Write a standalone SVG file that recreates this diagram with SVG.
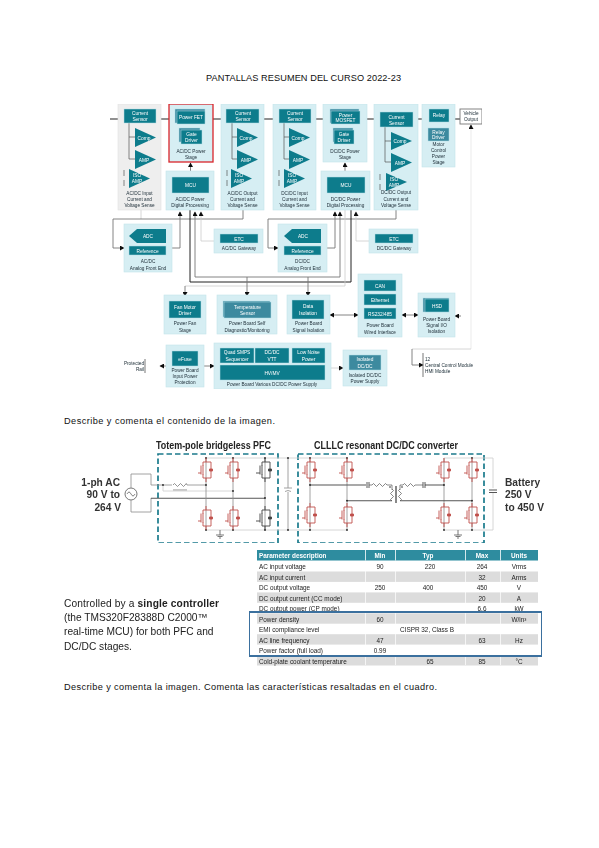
<svg xmlns="http://www.w3.org/2000/svg" width="599" height="848" viewBox="0 0 599 848">
<style>
text{font-family:"Liberation Sans",Arial,sans-serif}
.p{fill:#d6eef3;stroke:#c3e3ea;stroke-width:.6}
.pg{fill:#eeeeee;stroke:#e2e2e2;stroke-width:.6}
.b{fill:#0f7c8c;stroke:#b5dde5;stroke-width:.5}
.s{fill:#3d8a9f;stroke:#b5dde5;stroke-width:.5}
.t{fill:#0f7c8c}
.w{fill:#fff;font-size:4.8px;text-anchor:middle}
.l{fill:#20303a;font-size:4.7px;text-anchor:middle}
.k{fill:none;stroke:#222;stroke-width:1.2}
.g{fill:none;stroke:#777;stroke-width:.9}
.lg{fill:none;stroke:#ccc;stroke-width:.8}
.f{fill:none;stroke:#e6e6e6;stroke-width:.8}
.dk{fill:none;stroke:#222;stroke-width:1}
.a{marker-end:url(#ah)}
.r{fill:none;stroke:#8a8a8a;stroke-width:.8}
.r2{fill:none;stroke:#555;stroke-width:1.1}
.c{fill:none;stroke:#555;stroke-width:.7}
.d{fill:#222}
.h{fill:#222;font-size:10.6px;font-weight:bold}
.n{fill:#333;font-size:10.2px;text-anchor:end;font-weight:bold}
.dash{fill:none;stroke:#1c7a8c;stroke-width:1.7;stroke-dasharray:5.5 3}
.th{fill:#fff;font-size:6.4px;font-weight:bold}
.td{fill:#222;font-size:6.4px}
.m{text-anchor:middle}
.cap{fill:#111;font-size:9.2px}
</style>
<defs>
<filter id="soft" x="0" y="0" width="100%" height="100%"><feGaussianBlur stdDeviation=".35"/></filter>
<marker id="ah" markerUnits="userSpaceOnUse" markerWidth="5" markerHeight="5" refX="4" refY="2.5" orient="auto"><path d="M0 0L4.5 2.5L0 5Z" fill="#111"/></marker>
<g id="swr" fill="none" stroke="#c0504d" stroke-width=".9"><path d="M0-12V-8H-3V-4M-3 4V8H0V12M-5-4.500V4.500M-3-4.500V4.500M-8 3H-5M0-8H5V8H0"/><path d="M3.500-1H6.500V1H3.500Z" fill="#c0504d"/></g>
<g id="swk" fill="none" stroke="#444" stroke-width=".9"><path d="M0-12V-8H-3V-4M-3 4V8H0V12M-5-4.500V4.500M-3-4.500V4.500M-9 3H-5M0-8H5V8H0"/><path d="M3.500-1H6.500V1H3.500Z" fill="#444"/></g>
<g id="gnd" fill="none" stroke="#555" stroke-width=".8"><path d="M0-5V0M-4 0H4M-2.500 1.500H2.500M-1 3H1"/></g>
</defs>
<rect width="599" height="848" fill="#fff"/>
<text id="title" x="206" y="81" font-size="9.2" fill="#111" textLength="195" lengthAdjust="spacing">PANTALLAS RESUMEN DEL CURSO 2022-23</text>

<g id="block-diagram" filter="url(#soft)">
<g id="connectors">
<path class="k" d="M110 119H118M161 119H169M213 119H221M264 119H273M316 119H323M367 119H374M418 119H422M455 119H460"/>
<path class="g a" d="M190.500 171V163"/><path class="g a" d="M345 171V163"/>
<path class="g a" d="M471 129V125"/>
<path class="f" d="M471 129V349"/><path class="lg" d="M471 349H412"/><path class="g a" d="M412 349V365H423"/>
<path class="lg" d="M141 210V219"/>
<path class="g" d="M243 210V219H113V248"/><path class="g a" d="M113 248H124"/>
<path class="g a" d="M172 248H180V212"/>
<path class="g" d="M396 210V219H268V248"/><path class="g a" d="M268 248H278"/>
<path class="g a" d="M327 248H335V212"/>
<path class="lg a" d="M214 241H201V212"/><path class="lg a" d="M369 241H356V212"/>
<path class="g a" d="M340 277V212"/><path class="g" d="M340 277H195"/><path class="g a" d="M195 277V212"/>
<path class="dk" d="M190 210V282H351V210"/>
<path class="lg" d="M185 286H345V210"/><path class="g a" d="M185 286V296"/>
<path class="g a" d="M247 277V296"/><path class="g a" d="M308 277V296"/>
<path class="g a" d="M338 315H330"/><path class="g a" d="M338 315H358"/>
<path class="g a" d="M410 315H402"/><path class="g a" d="M410 315H418"/>
<path class="g a" d="M461 316H455"/>
<path class="g a" d="M166 366H160"/><path class="g a" d="M204 366H214"/>
<path class="lg a" d="M331 368H343"/>
<path d="M145 359V373M423 353V377" stroke="#555" stroke-width=".8" fill="none"/>
</g>

<g id="vehicle-output"><rect x="460" y="109" width="22" height="15" fill="#fff" stroke="#777" stroke-width=".9"/><text class="l" x="471" y="114.500">Vehicle</text><text class="l" x="471" y="121">Output</text></g>

<g id="n-acdc-input-sense"><rect class="pg" x="118" y="104" width="43" height="106"/>
<path class="c" d="M129 123V159M129 137H135M129 159H135M124 170V176M124 180V186"/>
<rect class="b" x="124" y="109" width="32" height="14"/><text class="w" x="140" y="115">Current</text><text class="w" x="140" y="120.500">Sensor</text>
<polygon class="t" points="135,128 156,137.500 135,147"/><text class="w" x="144" y="139.500">Comp</text>
<polygon class="t" points="135,150 156,159.500 135,169"/><text class="w" x="144" y="161.500">AMP</text>
<polygon class="t" points="129,169 150,178.500 129,188"/><text class="w" x="137" y="177">ISO</text><text class="w" x="137" y="183">AMP</text>
<text class="l" x="139.500" y="195">AC/DC Input</text><text class="l" x="139.500" y="200.500">Current and</text><text class="l" x="139.500" y="207">Voltage Sense</text></g>

<g id="n-acdc-power-stage"><rect x="169" y="104" width="44" height="58" fill="#d6eef3" stroke="#d9252a" stroke-width="1.3"/>
<rect class="s" x="175" y="109" width="30" height="14"/><rect class="b" x="177" y="111" width="28" height="13"/><text class="w" x="191" y="119">Power FET</text>
<rect class="s" x="179" y="128" width="21" height="14"/><rect class="b" x="181" y="130" width="21" height="14"/><text class="w" x="191.500" y="136">Gate</text><text class="w" x="191.500" y="141.500">Driver</text>
<text class="l" x="191" y="153">AC/DC Power</text><text class="l" x="191" y="158.500">Stage</text></g>

<g id="n-acdc-mcu"><rect class="p" x="166" y="171" width="48" height="39"/><rect class="b" x="172" y="177" width="37" height="16"/><text class="w" x="190.500" y="187">MCU</text>
<text class="l" x="190" y="200.500">AC/DC Power</text><text class="l" x="190" y="207">Digital Processing</text></g>

<g id="n-acdc-output-sense"><rect class="p" x="221" y="104" width="43" height="106"/>
<path class="c" d="M232 123V159M232 137H238M232 159H238M227 170V176M227 180V186"/>
<rect class="b" x="226" y="109" width="33" height="14"/><text class="w" x="243" y="115">Current</text><text class="w" x="243" y="120.500">Sensor</text>
<polygon class="t" points="237,128 258,137.500 237,147"/><text class="w" x="246" y="139.500">Comp</text>
<polygon class="t" points="237,150 258,159.500 237,169"/><text class="w" x="246" y="161.500">AMP</text>
<polygon class="t" points="231,169 252,178.500 231,188"/><text class="w" x="239" y="177">ISO</text><text class="w" x="239" y="183">AMP</text>
<text class="l" x="242.500" y="195">AC/DC Output</text><text class="l" x="242.500" y="200.500">Current and</text><text class="l" x="242.500" y="207">Voltage Sense</text></g>

<g id="n-dcdc-input-sense"><rect class="p" x="273" y="104" width="43" height="106"/>
<path class="c" d="M284 123V159M284 137H290M284 159H290M279 170V176M279 180V186"/>
<rect class="b" x="279" y="109" width="32" height="14"/><text class="w" x="295" y="115">Current</text><text class="w" x="295" y="120.500">Sensor</text>
<polygon class="t" points="289,128 310,137.500 289,147"/><text class="w" x="298" y="139.500">Comp</text>
<polygon class="t" points="289,150 310,159.500 289,169"/><text class="w" x="298" y="161.500">AMP</text>
<polygon class="t" points="284,169 305,178.500 284,188"/><text class="w" x="292" y="177">ISO</text><text class="w" x="292" y="183">AMP</text>
<text class="l" x="294.500" y="195">DC/DC Input</text><text class="l" x="294.500" y="200.500">Current and</text><text class="l" x="294.500" y="207">Voltage Sense</text></g>

<g id="n-dcdc-power-stage"><rect class="p" x="323" y="104" width="44" height="58"/>
<rect class="s" x="330" y="109" width="29" height="14"/><rect class="b" x="331" y="111" width="29" height="13"/><text class="w" x="345.500" y="116.500">Power</text><text class="w" x="345.500" y="122">MOSFET</text>
<rect class="s" x="333" y="128" width="20" height="14"/><rect class="b" x="334" y="130" width="20" height="14"/><text class="w" x="344" y="136">Gate</text><text class="w" x="344" y="141.500">Driver</text>
<text class="l" x="345" y="153">DC/DC Power</text><text class="l" x="345" y="158.500">Stage</text></g>

<g id="n-dcdc-mcu"><rect class="p" x="321" y="171" width="49" height="39"/><rect class="b" x="327" y="177" width="38" height="16"/><text class="w" x="346" y="187">MCU</text>
<text class="l" x="345.500" y="200.500">DC/DC Power</text><text class="l" x="345.500" y="207">Digital Processing</text></g>

<g id="n-dcdc-output-sense"><rect class="p" x="374" y="104" width="44" height="106"/>
<path class="c" d="M385 127V162M385 141H391M385 162H391M380 174V180M380 184V190"/>
<rect class="b" x="380" y="112" width="33" height="15"/><text class="w" x="396.500" y="118.500">Current</text><text class="w" x="396.500" y="124.500">Sensor</text>
<polygon class="t" points="391,132 412,141 391,150"/><text class="w" x="400" y="143">Comp</text>
<polygon class="t" points="391,153 412,162.500 391,172"/><text class="w" x="400" y="164.500">AMP</text>
<polygon class="t" points="386,173 407,182 386,191"/><text class="w" x="394" y="180.500">ISO</text><text class="w" x="394" y="186.500">AMP</text>
<text class="l" x="396" y="194">DC/DC Output</text><text class="l" x="396" y="200.500">Current and</text><text class="l" x="396" y="207">Voltage Sense</text></g>

<g id="n-relay"><rect class="p" x="422" y="104" width="33" height="63"/>
<rect class="b" x="429" y="109" width="20" height="13"/><text class="w" x="439" y="117">Relay</text>
<rect class="s" x="428" y="128" width="21" height="13"/><text class="w" x="438.500" y="133.500">Relay</text><text class="w" x="438.500" y="139">Driver</text>
<text class="l" x="438.500" y="146">Motor</text><text class="l" x="438.500" y="151.500">Control</text><text class="l" x="438.500" y="157.500">Power</text><text class="l" x="438.500" y="163.500">Stage</text></g>

<g id="n-acdc-front-end"><rect class="p" x="124" y="224" width="48" height="48"/>
<polygon class="t" points="129,236 137,229 166,229 166,243 137,243"/><text class="w" x="148" y="238">ADC</text>
<rect class="b" x="129" y="246" width="37" height="9"/><text class="w" x="147.500" y="252.500">Reference</text>
<text class="l" x="148" y="263">AC/DC</text><text class="l" x="148" y="269.500">Analog Front End</text></g>

<g id="n-acdc-gateway"><rect class="p" x="214" y="229" width="49" height="24"/><rect class="b" x="220" y="234" width="38" height="9"/><text class="w" x="239" y="240.500">ETC</text><text class="l" x="239" y="249.500">AC/DC Gateway</text></g>

<g id="n-dcdc-front-end"><rect class="p" x="278" y="224" width="49" height="48"/>
<polygon class="t" points="284,236 292,229 321,229 321,243 292,243"/><text class="w" x="303" y="238">ADC</text>
<rect class="b" x="284" y="246" width="37" height="9"/><text class="w" x="302.500" y="252.500">Reference</text>
<text class="l" x="302.500" y="263">DC/DC</text><text class="l" x="302.500" y="269.500">Analog Front End</text></g>

<g id="n-dcdc-gateway"><rect class="p" x="369" y="229" width="49" height="24"/><rect class="b" x="375" y="234" width="38" height="9"/><text class="w" x="394" y="240.500">ETC</text><text class="l" x="394" y="249.500">DC/DC Gateway</text></g>

<g id="n-fan"><rect class="p" x="164" y="295" width="42" height="39"/><rect class="b" x="169" y="301" width="32" height="17"/><text class="w" x="185" y="308.500">Fan Motor</text><text class="w" x="185" y="314.500">Driver</text>
<text class="l" x="185" y="325">Power Fan</text><text class="l" x="185" y="331.500">Stage</text></g>

<g id="n-temperature"><rect class="p" x="217" y="295" width="60" height="39"/><rect class="s" x="223" y="301" width="47" height="16"/><rect class="s" x="224" y="302" width="47" height="16"/><text class="w" x="247.500" y="308.500">Temperature</text><text class="w" x="247.500" y="314.500">Sensor</text>
<text class="l" x="247" y="325">Power Board Self</text><text class="l" x="247" y="331.500">Diagnostic/Monitoring</text></g>

<g id="n-data-isolation"><rect class="p" x="287" y="295" width="43" height="39"/><rect class="b" x="292" y="300" width="32" height="19"/><text class="w" x="308" y="308">Data</text><text class="w" x="308" y="314.500">Isolation</text>
<text class="l" x="308.500" y="325">Power Board</text><text class="l" x="308.500" y="331.500">Signal Isolation</text></g>

<g id="n-wired-interface"><rect class="p" x="358" y="274" width="44" height="63"/>
<rect class="b" x="364" y="280" width="32" height="11"/><text class="w" x="380" y="287.500">CAN</text>
<rect class="b" x="364" y="294" width="32" height="11"/><text class="w" x="380" y="301.500">Ethernet</text>
<rect class="b" x="364" y="308" width="32" height="11"/><text class="w" x="380" y="315.500">RS232/485</text>
<text class="l" x="380" y="327">Power Board</text><text class="l" x="380" y="333.500">Wired Interface</text></g>

<g id="n-signal-protection"><rect class="p" x="418" y="293" width="37" height="44"/><rect class="s" x="423" y="298" width="26" height="14"/><rect class="b" x="425" y="299" width="24" height="13"/><text class="w" x="437" y="307.500">HSD</text>
<text class="l" x="436.500" y="321">Power Board</text><text class="l" x="436.500" y="327">Signal I/O</text><text class="l" x="436.500" y="333">Isolation</text></g>

<g id="n-input-rail"><text class="l" x="144" y="364.500" style="text-anchor:end">Protected</text><text class="l" x="144" y="370.500" style="text-anchor:end">Rail</text></g>

<g id="n-efuse"><rect class="p" x="166" y="345" width="38" height="42"/><rect class="b" x="172" y="351" width="26" height="15"/><text class="w" x="185" y="360.500">eFuse</text>
<text class="l" x="185" y="372">Power Board</text><text class="l" x="185" y="378">Input Power</text><text class="l" x="185" y="384">Protection</text></g>

<g id="n-various-supply"><rect class="p" x="214" y="343" width="117" height="46"/>
<rect class="b" x="220" y="348" width="34" height="15"/><text class="w" x="237" y="354">Quad SMPS</text><text class="w" x="237" y="360.500">Sequencer</text>
<rect class="b" x="255" y="348" width="34" height="15"/><text class="w" x="272" y="354">DC/DC</text><text class="w" x="272" y="360.500">VTT</text>
<rect class="b" x="292" y="348" width="33" height="15"/><text class="w" x="308.500" y="354">Low Noise</text><text class="w" x="308.500" y="360.500">Power</text>
<rect class="b" x="220" y="365" width="105" height="15"/><text class="w" x="272" y="374.500">HV/MV</text>
<text class="l" x="272" y="386">Power Board Various DC/DC Power Supply</text></g>

<g id="n-isolated-supply"><rect class="p" x="343" y="350" width="44" height="36"/><rect class="s" x="349" y="355" width="32" height="15"/><text class="w" x="365" y="361">Isolated</text><text class="w" x="365" y="367.500">DC/DC</text>
<text class="l" x="365" y="377">Isolated DC/DC</text><text class="l" x="365" y="382.500">Power Supply</text></g>

<g id="n-output-list"><text class="l" x="425" y="361" style="text-anchor:start">12</text><text class="l" x="425" y="367" style="text-anchor:start">Central Control Module</text><text class="l" x="425" y="373" style="text-anchor:start">HMI Module</text></g>
</g>

<text id="caption-1" class="cap" x="64" y="424" textLength="211" lengthAdjust="spacing">Describe y comenta el contenido de la imagen.</text>

<g id="schematic" filter="url(#soft)">
<text class="h" x="156" y="449" textLength="115" lengthAdjust="spacingAndGlyphs">Totem-pole bridgeless PFC</text>
<text class="h" x="314" y="449" textLength="144" lengthAdjust="spacingAndGlyphs">CLLLC resonant DC/DC converter</text>
<rect class="dash" x="158" y="454" width="120" height="89"/>
<rect class="dash" x="298" y="454" width="186" height="89"/>
<text class="n" x="120" y="486">1-ph AC</text><text class="n" x="120" y="498">90 V to</text><text class="n" x="121" y="511">264 V</text>
<g id="ac-source"><circle cx="131" cy="494" r="6" fill="#fff" stroke="#555" stroke-width=".8"/><path d="M127 494Q129 490 131 494T135 494" fill="none" stroke="#555" stroke-width=".7"/></g>
<path class="r" d="M131 488V474H151V485H172M187 485H206M131 500V512H151V498"/>
<path class="r2" d="M151 498.300H265"/>
<path d="M173 485q1.500-3 3 0t3 0 3 0 3 0 2 0M173 490H187" fill="none" stroke="#666" stroke-width=".7"/>
<path class="lg" d="M163 485V491H233"/>
<path class="lg" d="M206 458H347M206 530H347"/>
<path class="r" d="M206 458V530M233 458V530M265 458V530M288 458V488M288 492V530M284 488H292M285 491.500Q288 489.500 291 491.500"/>
<circle class="d" cx="163" cy="485" r=".9"/><circle class="d" cx="206" cy="485" r=".9"/><circle class="d" cx="233" cy="491" r=".9"/><circle class="d" cx="265" cy="498" r=".9"/><circle class="d" cx="206" cy="458" r=".9"/><circle class="d" cx="233" cy="458" r=".9"/><circle class="d" cx="265" cy="458" r=".9"/><circle class="d" cx="206" cy="530" r=".9"/><circle class="d" cx="233" cy="530" r=".9"/><circle class="d" cx="265" cy="530" r=".9"/><circle class="d" cx="288" cy="458" r=".9"/><circle class="d" cx="288" cy="530" r=".9"/>
<use href="#swr" x="206" y="470"/><use href="#swr" x="233" y="470"/><use href="#swk" x="265" y="470"/>
<use href="#swr" x="206" y="518"/><use href="#swr" x="233" y="518"/><use href="#swk" x="265" y="518"/>
<use href="#gnd" x="220" y="535"/>

<path class="r" d="M310 458V530M347 458V530M444 458V530M472 458V530"/>
<path class="lg" d="M444 458H493V488M493 493V530H444"/>
<path d="M489 490H497M489 492.500H497" stroke="#555" stroke-width="1" fill="none"/>
<path class="r2" d="M310 485H366M425 485H444M347 500.700H392M400 500.700H472"/>
<path d="M367 482V488M369 482V488M423 482V488M425 482V488" stroke="#333" stroke-width=".8" fill="none"/>
<path d="M369 485H372q1.500-3 3 0t3 0 3 0 3 0 3 0H392V490M400 490V485H403q1.500-3 3 0t3 0 3 0 3 0H423" fill="none" stroke="#555" stroke-width=".7"/>
<path d="M392 489q3 1.500 0 3t0 3 0 3 0 3M400 489q-3 1.500 0 3t0 3 0 3 0 3M395.500 486V503M396.500 486V503" fill="none" stroke="#555" stroke-width=".7"/>
<circle class="d" cx="390" cy="487" r=".8"/><circle class="d" cx="402" cy="487" r=".8"/>
<circle class="d" cx="310" cy="485" r=".9"/><circle class="d" cx="347" cy="500.700" r=".9"/><circle class="d" cx="444" cy="485" r=".9"/><circle class="d" cx="472" cy="500.700" r=".9"/><circle class="d" cx="310" cy="458" r=".9"/><circle class="d" cx="347" cy="458" r=".9"/><circle class="d" cx="472" cy="458" r=".9"/><circle class="d" cx="310" cy="530" r=".9"/><circle class="d" cx="347" cy="530" r=".9"/><circle class="d" cx="444" cy="530" r=".9"/><circle class="d" cx="472" cy="530" r=".9"/>
<use href="#swr" x="310" y="470"/><use href="#swr" x="347" y="470"/><use href="#swr" x="444" y="470"/><use href="#swr" x="472" y="470"/>
<use href="#swr" x="310" y="515"/><use href="#swr" x="347" y="515"/><use href="#swr" x="444" y="515"/><use href="#swr" x="472" y="515"/>
<use href="#gnd" x="458" y="535"/>
<text class="h" x="505" y="486" style="font-size:10.2px;fill:#333">Battery</text><text class="h" x="505" y="498" style="font-size:10.2px;fill:#333">250 V</text><text class="h" x="505" y="511" style="font-size:10.2px;fill:#333">to 450 V</text>
</g>

<g id="spec-table" filter="url(#soft)">
<rect x="257" y="550" width="281" height="10.500" fill="#2f8c9f"/>
<path d="M365.500 550V560.500M395.500 550V560.500M465.500 550V560.500M500.500 550V560.500" stroke="#fff" stroke-width=".8"/>
<g fill="#dcdcdc"><rect x="257" y="571.500" width="281" height="10.400"/><rect x="257" y="592.400" width="281" height="10.400"/><rect x="257" y="613.300" width="281" height="10.400"/><rect x="257" y="634.200" width="281" height="10.400"/><rect x="257" y="655.100" width="281" height="10.400"/></g>
<path d="M365.500 561V665M395.500 561V665M465.500 561V665M500.500 561V665" stroke="#fff" stroke-width=".7"/>
<text class="th" x="259" y="558">Parameter description</text><text class="th m" x="380" y="558">Min</text><text class="th m" x="428" y="558">Typ</text><text class="th m" x="482" y="558">Max</text><text class="th m" x="519" y="558">Units</text>
<text class="td" x="259" y="569">AC input voltage</text><text class="td m" x="380" y="569">90</text><text class="td m" x="430" y="569">220</text><text class="td m" x="482" y="569">264</text><text class="td m" x="519" y="569">Vrms</text>
<text class="td" x="259" y="579.500">AC input current</text><text class="td m" x="482" y="579.500">32</text><text class="td m" x="519" y="579.500">Arms</text>
<text class="td" x="259" y="590">DC output voltage</text><text class="td m" x="380" y="590">250</text><text class="td m" x="428" y="590">400</text><text class="td m" x="482" y="590">450</text><text class="td m" x="519" y="590">V</text>
<text class="td" x="259" y="600.500">DC output current (CC mode)</text><text class="td m" x="482" y="600.500">20</text><text class="td m" x="519" y="600.500">A</text>
<text class="td" x="259" y="611">DC output power (CP mode)</text><text class="td m" x="482" y="611">6.6</text><text class="td m" x="519" y="611">kW</text>
<text class="td" x="259" y="621.500">Power density</text><text class="td m" x="380" y="621.500">60</text><text class="td m" x="519" y="621.500">W/in³</text>
<text class="td" x="259" y="632">EMI compliance level</text><text class="td m" x="427" y="632">CISPR 32, Class B</text>
<text class="td" x="259" y="642.500">AC line frequency</text><text class="td m" x="380" y="642.500">47</text><text class="td m" x="482" y="642.500">63</text><text class="td m" x="519" y="642.500">Hz</text>
<text class="td" x="259" y="653">Power factor (full load)</text><text class="td m" x="380" y="653">0.99</text>
<text class="td" x="259" y="663.500">Cold-plate coolant temperature</text><text class="td m" x="430" y="663.500">65</text><text class="td m" x="482" y="663.500">85</text><text class="td m" x="519" y="663.500">°C</text>
<rect x="249" y="612" width="293" height="44" fill="none" stroke="#3a6f9e" stroke-width="2"/>
</g>

<g id="controller-note" fill="#222" font-size="10.200" filter="url(#soft)">
<text x="64" y="607" textLength="155" lengthAdjust="spacing">Controlled by a <tspan font-weight="bold">single controller</tspan></text>
<text x="64" y="621">(the TMS320F28388D C2000™</text>
<text x="64" y="635">real-time MCU) for both PFC and</text>
<text x="64" y="650">DC/DC stages.</text>
</g>

<text id="caption-2" class="cap" x="64" y="690" textLength="373" lengthAdjust="spacing">Describe y comenta la imagen. Comenta las características resaltadas en el cuadro.</text>
</svg>
